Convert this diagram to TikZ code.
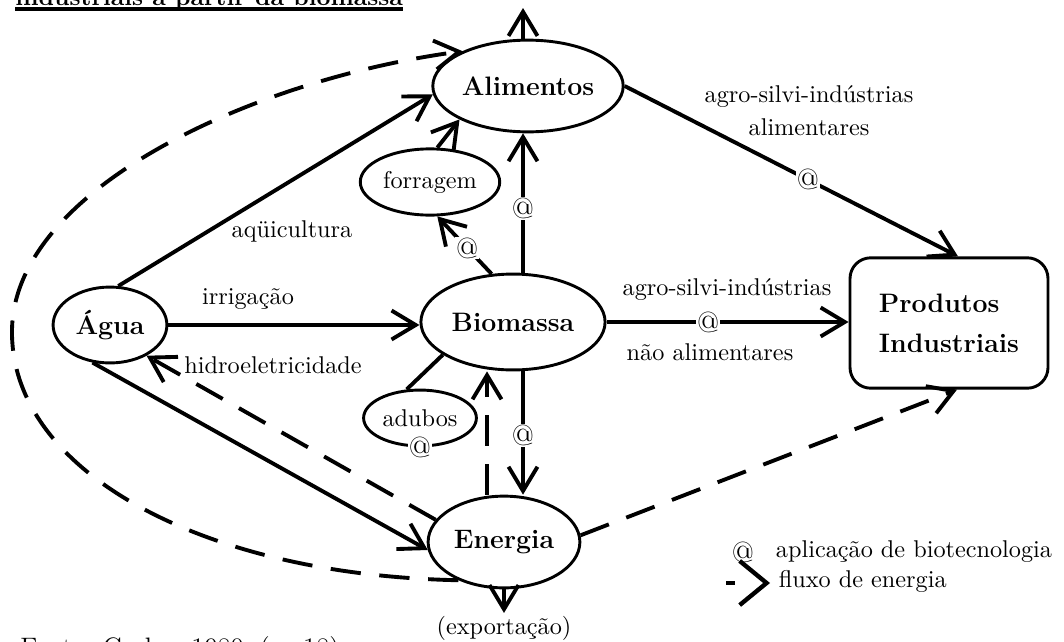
\documentclass[tikz,border=0pt]{standalone}
\usepackage{fontspec}
\usetikzlibrary{arrows.meta,shapes.geometric,calc}

\begin{document}
\begin{tikzpicture}[x=0.0145cm,y=-0.0145cm,>={Straight Barb[length=3.5mm,width=4.2mm]},
  fluxo/.style={line width=1.6pt,->},
  energia/.style={line width=1.6pt,->,dash pattern=on 4.4mm off 2.7mm},
  bola/.style={ellipse,draw,line width=1.2pt,fill=white,inner sep=0pt},
  grande/.style={font=\fontsize{11}{13}\selectfont\bfseries},
  rotulo/.style={font=\fontsize{10}{12}\selectfont,inner sep=1pt},
  arroba/.style={fill=white,inner sep=0.4pt,font=\fontsize{12}{14}\selectfont}]
\useasboundingbox (0,0) rectangle (1064,641);
\clip (0,0) rectangle (1064,641);
% título (cortado no topo) e fonte
\node[anchor=base west,inner sep=0pt,font=\bfseries] (titulo) at (15,5) {industriais a partir da biomassa};
\draw[line width=1.3pt] ($(titulo.base west)+(0,4)$) -- ($(titulo.base east)+(0,4)$);
\node[anchor=north west,inner sep=0pt,font=\fontsize{11}{13}\selectfont] (fonte) at (20,636) {Fonte: Carlos, 1980, (p. 18)};
% nós principais
\node[bola,grande,minimum width=1.65cm,minimum height=1.1cm] (agua) at (110,325) {Água};
\node[bola,grande,minimum width=2.67cm,minimum height=1.39cm] (bio) at (513,322) {Biomassa};
\node[bola,grande,minimum width=2.76cm,minimum height=1.33cm] (alim) at (528,86) {Alimentos};
\node[bola,grande,minimum width=2.2cm,minimum height=1.33cm] (ener) at (504,542) {Energia};
\node[bola,rotulo,minimum width=1.83cm,minimum height=0.96cm] (forr) at (430,182) {forragem};
\node[bola,rotulo,minimum width=1.6cm,minimum height=0.81cm] (adub) at (420,418) {adubos};
\node[arroba] (arrAdub) at (adub.south) {@};
\node[draw,line width=1.2pt,rounded corners=0.3cm,align=left,minimum width=2.87cm,minimum height=1.89cm,
  font=\fontsize{11}{16.5}\selectfont\bfseries] (prod) at (949,323) {Produtos\\Industriais};
\node[rotulo] (expo) at (504,628) {(exportação)};
\coordinate (eixo) at (523,0);
\coordinate (eixob) at (487,0);
\coordinate (topo) at (523,8);
% rótulos das ligações
\node[rotulo] (laqui) at (292,231) {aqüicultura};
\node[rotulo] (lirri) at (248,299) {irrigação};
\node[rotulo] (lhidro) at (273,365) {hidroeletricidade};
\node[rotulo] (lagro) at (727,290) {agro-silvi-indústrias};
\node[rotulo] (lnao) at (710,352) {não alimentares};
\node[rotulo,align=center,font=\fontsize{10}{13.6}\selectfont] (lalim) at (809,111) {agro-silvi-indústrias\\alimentares};
% fluxos a partir da água
\draw[fluxo] (agua.78) -- (alim.185);
\draw[fluxo] (agua.east) -- (agua.east -| bio.west);
\draw[fluxo] (agua.245) -- (ener.186);
% fluxos a partir da biomassa
\draw[fluxo] (bio.north -| eixo) -- node[arroba,pos=0.46] (ar1) {@} (alim.south -| eixo);
\draw[fluxo] (bio.114) -- node[arroba,pos=0.45] (ar2) {@} (forr.282);
\draw[fluxo] (forr.78) -- (alim.206);
\draw[fluxo] (bio.east) -- node[arroba,pos=0.42] (ar3) {@} (bio.east -| prod.west);
\draw[fluxo] (bio.south -| eixo) -- node[arroba,pos=0.52] (ar4) {@} (ener.north -| eixo);
\draw[line width=1.6pt] (adub.115) -- (bio.205);
% alimentos
\draw[fluxo] (alim.east) -- node[arroba,pos=0.55] (ar5) {@} ($(prod.north)+(9,0)$);
\draw[fluxo] (alim.north -| eixo) -- (topo);
\draw[fluxo] (ener.south) -- (expo.north);
% fluxos de energia (tracejado)
\draw[energia] (ener.north -| eixob) -- (bio.south -| eixob);
\draw[energia] (ener.162) -- (agua.320);
\draw[energia] (ener.5) -- ($(prod.south)+(8,0)$);
\draw[energia] (ener.220) .. controls (200,575) and (10,470) .. (12,330)
  .. controls (14,190) and (250,80) .. (alim.152);
% legenda
\node[arroba] (legarr) at (743,552) {@};
\node[rotulo,anchor=west] (legbio) at (773,552) {aplicação de biotecnologia};
\coordinate (legini) at (726,583);
\coordinate (legfim) at (770,583);
\draw[line width=1.8pt,-{Straight Barb[length=3.9mm,width=6.4mm]},dash pattern=on 1.3mm off 10mm] (legini) -- (legfim);
\node[rotulo,anchor=west] (legflu) at (776,581) {fluxo de energia};
\end{tikzpicture}
\end{document}
